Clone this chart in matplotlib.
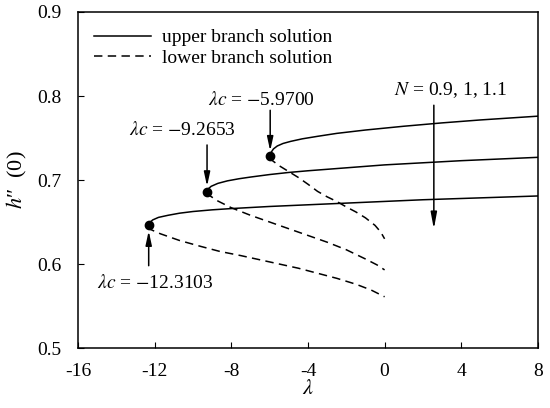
import numpy as np
import matplotlib
matplotlib.use("Agg")
from matplotlib import pyplot as plt

plt.rcParams['font.family'] = ['Liberation Serif', 'DejaVu Serif']
plt.rcParams['mathtext.fontset'] = 'stix'
plt.rcParams['axes.unicode_minus'] = False
plt.rcParams['font.size'] = 14

# critical points (lambda_c, h''(0))
lam_c = [-12.3103, -9.2653, -5.9700]
h_c = [0.646, 0.686, 0.728]

# upper branch solutions
up1_x = [-12.3103, -12.25, -12.1, -11.8, -11.3, -10.7, -10.0, -9.0, -8.0, -6.0, -4.0, -2.0, 0.0, 2.0, 4.0, 6.0, 8.0]
up1_y = [0.646, 0.6495, 0.6525, 0.6555, 0.658, 0.6605, 0.6625, 0.6645, 0.666, 0.6685, 0.6705, 0.6725, 0.6745, 0.6765, 0.678, 0.6795, 0.681]
up2_x = [-9.2653, -9.2, -9.05, -8.7, -8.2, -7.6, -7.0, -6.0, -5.0, -4.0, -2.0, 0.0, 2.0, 4.0, 6.0, 8.0]
up2_y = [0.686, 0.6895, 0.6925, 0.696, 0.699, 0.7015, 0.7035, 0.7065, 0.709, 0.711, 0.7145, 0.718, 0.7205, 0.723, 0.725, 0.727]
up3_x = [-5.97, -5.92, -5.8, -5.6, -5.3, -4.9, -4.3, -3.5, -2.5, -1.0, 1.0, 3.0, 5.0, 8.0]
up3_y = [0.728, 0.733, 0.737, 0.7405, 0.7435, 0.746, 0.749, 0.752, 0.7555, 0.7595, 0.764, 0.768, 0.7715, 0.776]

# lower branch solutions
lo1_x = [-12.3103, -12.2, -11.7, -10.7, -9.6, -8.6, -7.5, -6.5, -5.5, -4.5, -3.5, -2.5, -1.5, -0.7, 0.0]
lo1_y = [0.646, 0.641, 0.636, 0.628, 0.621, 0.615, 0.610, 0.605, 0.600, 0.595, 0.589, 0.583, 0.576, 0.569, 0.561]
lo2_x = [-9.2653, -9.1, -8.7, -8.0, -7.0, -6.0, -5.0, -4.0, -3.0, -2.0, -1.0, -0.4, 0.0]
lo2_y = [0.686, 0.681, 0.675, 0.667, 0.658, 0.650, 0.642, 0.634, 0.626, 0.617, 0.606, 0.599, 0.593]
lo3_x = [-5.97, -5.85, -5.5, -5.0, -4.5, -4.0, -3.5, -3.0, -2.5, -2.0, -1.5, -1.0, -0.5, -0.2, 0.0]
lo3_y = [0.728, 0.723, 0.717, 0.710, 0.703, 0.695, 0.6865, 0.680, 0.6745, 0.668, 0.662, 0.655, 0.646, 0.638, 0.630]

fig = plt.figure(figsize=(5.5, 4.08), dpi=100)
ax = fig.add_axes([0.1418, 0.147, 0.8362, 0.8236])

lw = 1.1
ax.plot(up1_x, up1_y, 'k-', lw=lw, label='upper branch solution')
ax.plot(up2_x, up2_y, 'k-', lw=lw)
ax.plot(up3_x, up3_y, 'k-', lw=lw)
ax.plot(lo1_x, lo1_y, 'k--', lw=lw, dashes=(5.5, 3.5), label='lower branch solution')
ax.plot(lo2_x, lo2_y, 'k--', lw=lw, dashes=(5.5, 3.5))
ax.plot(lo3_x, lo3_y, 'k--', lw=lw, dashes=(5.5, 3.5))
ax.plot(lam_c, h_c, 'ko', ms=6, zorder=5)

arrow = dict(arrowstyle='-|>,head_length=0.6,head_width=0.13', color='k', lw=1.1,
             shrinkA=0, shrinkB=4)
# labels of the critical points
ax.text(-6.45, 0.795, r'$\lambda c$ = $-$5.9700', ha='center', va='center')
ax.annotate('', xy=(lam_c[2], h_c[2]), xytext=(lam_c[2], 0.783), arrowprops=arrow)
ax.text(-10.57, 0.7595, r'$\lambda c$ = $-$9.2653', ha='center', va='center')
ax.annotate('', xy=(lam_c[1], h_c[1]), xytext=(lam_c[1], 0.7417), arrowprops=arrow)
ax.text(-11.98, 0.577, r'$\lambda c$ = $-$12.3103', ha='center', va='center')
ax.annotate('', xy=(lam_c[0], h_c[0]), xytext=(lam_c[0], 0.598), arrowprops=arrow)

ax.text(3.46, 0.807, r'$N$ = 0.9, 1, 1.1', ha='center', va='center')
ax.annotate('', xy=(2.57, 0.6417), xytext=(2.57, 0.789),
            arrowprops=dict(arrowstyle='-|>,head_length=0.7,head_width=0.13', color='k',
                            lw=1.1, shrinkA=0, shrinkB=0))

ax.set_xlim(-16, 8)
ax.set_ylim(0.5, 0.9)
ax.set_xticks(np.arange(-16, 9, 4))
ax.set_yticks([0.5, 0.6, 0.7, 0.8, 0.9])
ax.set_yticklabels(['0.5', '0.6', '0.7', '0.8', '0.9'])
ax.tick_params(direction='in', length=4, width=0.8, top=False, right=False)
ax.tick_params(axis='x', pad=11)
ax.tick_params(axis='y', pad=12)
for s in ax.spines.values():
    s.set_linewidth(1.1)

ax.set_xlabel(r'$\lambda$', fontsize=16, labelpad=0)
ax.set_ylabel(r"$h$″  (0)", fontsize=16, labelpad=6)

ax.legend(loc='upper left', bbox_to_anchor=(0.01, 0.985), frameon=False,
          handlelength=2.9, handletextpad=0.6, borderaxespad=0.2,
          labelspacing=0.15, fontsize=14)

fig.savefig('out.png', dpi=100)
